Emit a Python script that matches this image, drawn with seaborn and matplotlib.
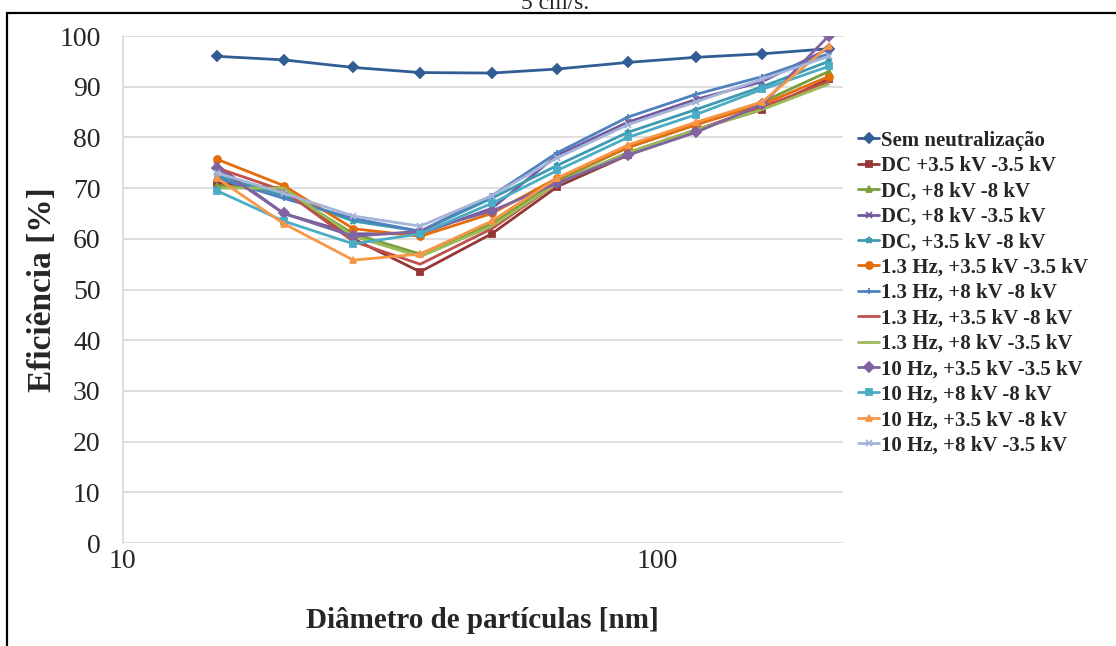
import matplotlib
matplotlib.use("Agg")
import matplotlib.pyplot as plt
from matplotlib.patches import Rectangle
import seaborn as sb
import pandas as pd

### DATA
diametro = [15, 20, 27, 36, 49, 65, 88, 118, 157, 209]

series_names = [
    "Sem neutralização",
    "DC +3.5 kV -3.5 kV",
    "DC, +8 kV -8 kV",
    "DC, +8 kV -3.5 kV",
    "DC, +3.5 kV -8 kV",
    "1.3 Hz, +3.5 kV -3.5 kV",
    "1.3 Hz, +8 kV -8 kV",
    "1.3 Hz, +3.5 kV -8 kV",
    "1.3 Hz, +8 kV -3.5 kV",
    "10 Hz, +3.5 kV -3.5 kV",
    "10 Hz, +8 kV -8 kV",
    "10 Hz, +3.5 kV -8 kV",
    "10 Hz, +8 kV -3.5 kV",
]

sem_neutralizacao = [96.0, 95.3, 93.8, 92.8, 92.7, 93.5, 94.8, 95.8, 96.5, 97.5]
dc_35_35 = [71.0, 70.0, 60.0, 53.5, 61.0, 70.3, 76.5, 81.5, 85.5, 91.5]
dc_8_8 = [70.5, 69.5, 61.0, 57.0, 63.0, 71.5, 78.0, 82.5, 87.0, 93.0]
dc_8_35 = [74.5, 65.0, 61.0, 61.0, 66.0, 76.5, 83.0, 87.5, 91.0, 97.5]
dc_35_8 = [72.5, 68.5, 63.5, 61.5, 68.0, 74.5, 81.0, 85.5, 90.0, 95.0]
hz13_35_35 = [75.7, 70.5, 62.0, 60.5, 65.0, 72.0, 78.0, 82.5, 86.5, 92.0]
hz13_8_8 = [72.0, 68.0, 64.0, 61.5, 68.5, 77.0, 84.0, 88.5, 92.0, 96.5]
hz13_35_8 = [74.0, 69.5, 59.5, 55.0, 62.0, 71.0, 77.0, 81.5, 86.0, 91.0]
hz13_8_35 = [70.0, 70.0, 60.5, 56.5, 62.5, 71.0, 77.0, 81.5, 85.5, 90.5]
hz10_35_35 = [74.0, 65.0, 60.5, 61.5, 65.5, 71.0, 76.5, 81.0, 86.5, 100.0]
hz10_8_8 = [69.5, 63.5, 59.0, 61.0, 67.0, 73.5, 80.0, 84.5, 89.5, 94.0]
hz10_35_8 = [72.0, 63.0, 55.8, 57.0, 63.5, 72.0, 78.5, 83.0, 87.0, 98.0]
hz10_8_35 = [73.0, 69.0, 64.5, 62.5, 68.5, 76.0, 82.5, 87.0, 91.5, 96.0]

values = [sem_neutralizacao, dc_35_35, dc_8_8, dc_8_35, dc_35_8,
          hz13_35_35, hz13_8_8, hz13_35_8, hz13_8_35,
          hz10_35_35, hz10_8_8, hz10_35_8, hz10_8_35]

colors = ["#325D94", "#953735", "#77A03C", "#71589F", "#3E9AB0",
          "#E46C0A", "#4F81BD", "#C0504D", "#9BBB59",
          "#8064A2", "#4BACC6", "#F79646", "#A5B5D9"]
markers = ["D", "s", "^", "x", "*", "o", "+", None, None, "D", "s", "^", "x"]

### PLOT
sb.set_style("white")
plt.rcParams['font.family'] = ['Liberation Serif', 'DejaVu Serif']

fig = plt.figure(figsize=(11.16, 6.46), dpi=100)
ax = fig.add_axes([0.110, 0.1594, 0.645, 0.7848])

for name, vals, col, mk in zip(series_names, values, colors, markers):
    df = pd.DataFrame({"d": diametro, "ef": vals})
    sb.lineplot(data=df, x="d", y="ef", ax=ax, color=col, marker=mk,
                markersize=5, markeredgecolor=col, markeredgewidth=1.3,
                linewidth=2.0, label=name)

ax.set_xscale("log")
ax.set_xlim(10, 222)
ax.set_ylim(0, 100)
ax.set_yticks(range(0, 101, 10))
ax.set_xticks([10, 100])
ax.set_xticklabels(["10", "100"])
ax.minorticks_off()
ax.grid(axis="y", color="#D9D9D9", linewidth=1.2)
ax.grid(axis="x", visible=False)
for s in ["top", "right", "bottom"]:
    ax.spines[s].set_visible(False)
ax.spines["left"].set_color("#D9D9D9")
ax.spines["left"].set_linewidth(1.2)
ax.tick_params(axis="both", labelsize=20, length=6, color="#D9D9D9", width=1.2)
ax.tick_params(axis="y", pad=10)
ax.tick_params(axis="x", length=4, pad=0)

ax.set_xlabel("Diâmetro de partículas [nm]", fontsize=21, fontweight="bold", labelpad=24)
ax.set_ylabel("Eficiência [%]", fontsize=24, fontweight="bold", labelpad=1)

leg = ax.legend(loc="upper left", bbox_to_anchor=(1.01, 0.83), frameon=False,
                prop={"size": 15, "weight": "bold"}, handlelength=1.0,
                handletextpad=0.1, labelspacing=0.26, borderaxespad=0)

fig.text(0.497, 0.986, "5 cm/s.", ha="center", va="baseline", fontsize=17)
fig.patches.append(Rectangle((7 / 1116, -0.05), 1.2, 1 - 13 / 646 + 0.05,
                             transform=fig.transFigure, fill=False,
                             edgecolor="black", linewidth=1.6))

fig.savefig("out.png", dpi=100)
